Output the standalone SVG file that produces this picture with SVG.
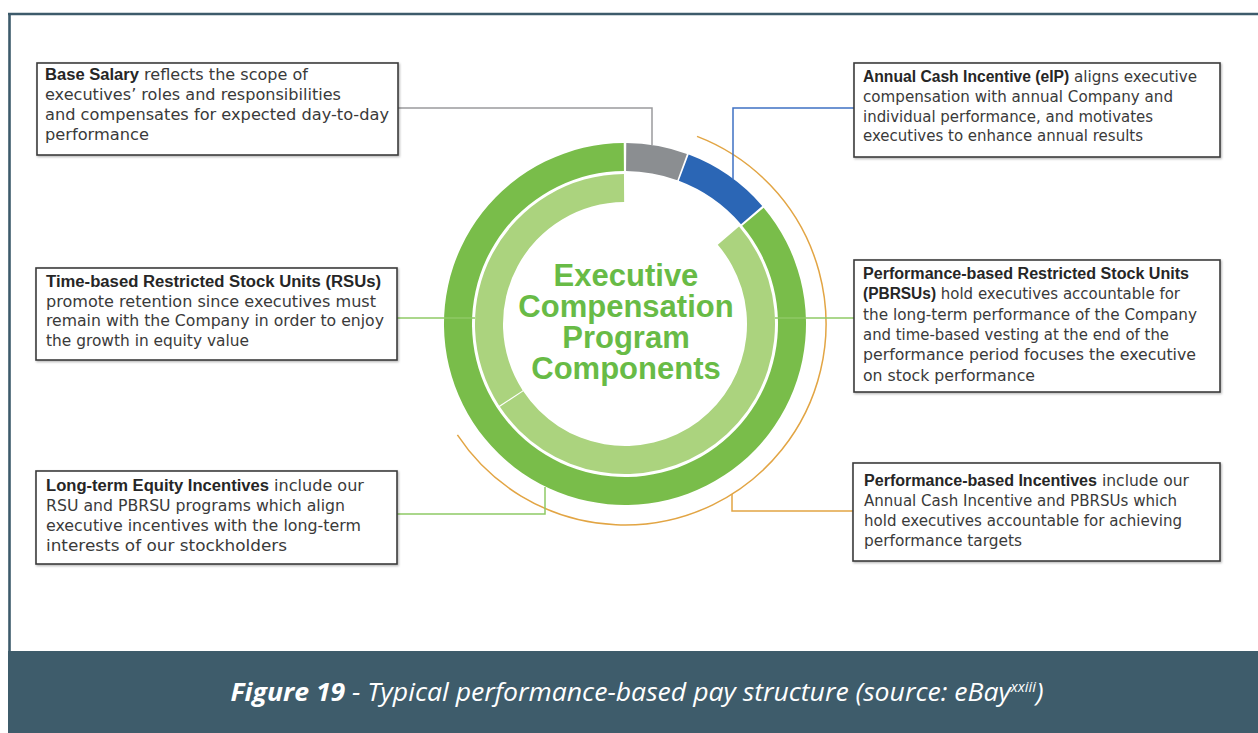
<svg xmlns="http://www.w3.org/2000/svg" width="1258" height="733" viewBox="0 0 1258 733">
<defs>
<filter id="sh" x="-5%" y="-5%" width="110%" height="115%"><feDropShadow dx="1" dy="1.2" stdDeviation="0.8" flood-color="#000" flood-opacity="0.3"/></filter>
</defs>
<style>
.box{fill:#fff;stroke:#3c3c3c;stroke-width:1.6;filter:url(#sh)}
.t{font-family:"DejaVu Sans","Liberation Sans",sans-serif;font-size:15.5px;fill:#3a3a3a}
.b{font-family:"Liberation Sans",Arial,sans-serif;font-weight:bold;font-size:16px;fill:#262626}
.title{font-family:"Liberation Sans",Arial,sans-serif;font-weight:bold;font-size:31px;fill:#68bb46;text-anchor:middle}
.cap{font-family:"Open Sans","Liberation Sans",sans-serif;font-style:italic;font-size:25.5px;fill:#fff;text-anchor:middle}
.c{fill:none;stroke-width:1.5}
.outer{fill:#79bd4a}
.inner{fill:#abd37e}
</style>
<rect width="1258" height="733" fill="#fff"/>
<g id="frame">
<line x1="8" y1="14" x2="1258" y2="14" stroke="#3d5b6b" stroke-width="2.6"/>
<line x1="9.5" y1="13" x2="9.5" y2="652" stroke="#3d5b6b" stroke-width="2.6"/>
<rect x="8" y="651" width="1250" height="82" fill="#3e5c6b"/>
</g>
<g id="donut">
<path fill="#8b8e91" d="M626.26,143 A181,181 0 0 1 686.91,153.92 L677.33,180.23 A153,153 0 0 0 626.07,171 Z"/>
<path fill="#2b66b5" d="M688.68,154.57 A181,181 0 0 1 762.22,205.97 L741.0,224.23 A153,153 0 0 0 678.83,180.78 Z"/>
<path class="outer" d="M763.65,207.66 A181,181 0 1 1 623.74,143 L623.93,171 A153,153 0 1 0 742.20,225.65 Z"/>
<path class="inner" d="M739.06,226.58 A150,150 0 1 1 499.92,406.79 L523.27,391.34 A122,122 0 1 0 717.77,244.77 Z"/>
<path class="inner" d="M499.20,405.70 A150,150 0 0 1 623.95,174 L624.15,202 A122,122 0 0 0 522.68,390.45 Z"/>
<text class="title" x="626" y="286">Executive</text>
<text class="title" x="626" y="317">Compensation</text>
<text class="title" x="626" y="348">Program</text>
<text class="title" x="626" y="379">Components</text>
</g>
<g id="connectors">
<path class="c" stroke="#e2a544" stroke-width="1.6" d="M697.03,136.35 A201,201 0 1 1 457.39,434.94"/>
<path class="c" stroke="#9a9b9d" d="M398,108 H652 V145"/>
<path class="c" stroke="#3f72c4" d="M854,108 H733 V179"/>
<path class="c" stroke="#8fca66" d="M397,318 H475"/>
<path class="c" stroke="#8fca66" d="M775,318 H854"/>
<path class="c" stroke="#8fca66" d="M545,487 V514 H397"/>
<path class="c" stroke="#e2a544" d="M732,494 V511 H853"/>
</g>
<g id="base-salary">
<rect class="box" x="37" y="63" width="361" height="92"/>
<text class="t" x="45" y="80" textLength="263" lengthAdjust="spacingAndGlyphs"><tspan class="b">Base Salary</tspan> reflects the scope of</text>
<text class="t" x="45" y="100" textLength="296" lengthAdjust="spacingAndGlyphs">executives’ roles and responsibilities</text>
<text class="t" x="45" y="120" textLength="344" lengthAdjust="spacingAndGlyphs">and compensates for expected day-to-day</text>
<text class="t" x="45" y="140" textLength="104" lengthAdjust="spacingAndGlyphs">performance</text>
</g>
<g id="annual-cash">
<rect class="box" x="854" y="63" width="366" height="94"/>
<text class="t" x="863" y="82" textLength="334" lengthAdjust="spacingAndGlyphs"><tspan class="b">Annual Cash Incentive (eIP)</tspan> aligns executive</text>
<text class="t" x="863" y="102" textLength="310" lengthAdjust="spacingAndGlyphs">compensation with annual Company and</text>
<text class="t" x="863" y="122" textLength="290" lengthAdjust="spacingAndGlyphs">individual performance, and motivates</text>
<text class="t" x="863" y="141" textLength="280" lengthAdjust="spacingAndGlyphs">executives to enhance annual results</text>
</g>
<g id="rsu">
<rect class="box" x="36" y="268" width="361" height="92"/>
<text class="b" x="46" y="287" textLength="335" lengthAdjust="spacingAndGlyphs">Time-based Restricted Stock Units (RSUs)</text>
<text class="t" x="46" y="306.5" textLength="330" lengthAdjust="spacingAndGlyphs">promote retention since executives must</text>
<text class="t" x="46" y="326" textLength="338" lengthAdjust="spacingAndGlyphs">remain with the Company in order to enjoy</text>
<text class="t" x="46" y="345.5" textLength="203" lengthAdjust="spacingAndGlyphs">the growth in equity value</text>
</g>
<g id="pbrsu">
<rect class="box" x="854" y="260" width="366" height="132"/>
<text class="b" x="863" y="279" textLength="326" lengthAdjust="spacingAndGlyphs">Performance-based Restricted Stock Units</text>
<text class="t" x="863" y="299.3" textLength="317" lengthAdjust="spacingAndGlyphs"><tspan class="b">(PBRSUs)</tspan> hold executives accountable for</text>
<text class="t" x="863" y="319.6" textLength="334" lengthAdjust="spacingAndGlyphs">the long-term performance of the Company</text>
<text class="t" x="863" y="340" textLength="306" lengthAdjust="spacingAndGlyphs">and time-based vesting at the end of the</text>
<text class="t" x="863" y="360.3" textLength="333" lengthAdjust="spacingAndGlyphs">performance period focuses the executive</text>
<text class="t" x="863" y="380.6" textLength="172" lengthAdjust="spacingAndGlyphs">on stock performance</text>
</g>
<g id="long-term-equity">
<rect class="box" x="36" y="471" width="361" height="93"/>
<text class="t" x="46" y="491" textLength="318" lengthAdjust="spacingAndGlyphs"><tspan class="b">Long-term Equity Incentives</tspan> include our</text>
<text class="t" x="46" y="511" textLength="299" lengthAdjust="spacingAndGlyphs">RSU and PBRSU programs which align</text>
<text class="t" x="46" y="531" textLength="315" lengthAdjust="spacingAndGlyphs">executive incentives with the long-term</text>
<text class="t" x="46" y="551" textLength="241" lengthAdjust="spacingAndGlyphs">interests of our stockholders</text>
</g>
<g id="performance-incentives">
<rect class="box" x="853" y="463" width="367" height="98"/>
<text class="t" x="864" y="486" textLength="325" lengthAdjust="spacingAndGlyphs"><tspan class="b">Performance-based Incentives</tspan> include our</text>
<text class="t" x="864" y="506" textLength="313" lengthAdjust="spacingAndGlyphs">Annual Cash Incentive and PBRSUs which</text>
<text class="t" x="864" y="526" textLength="318" lengthAdjust="spacingAndGlyphs">hold executives accountable for achieving</text>
<text class="t" x="864" y="546" textLength="158" lengthAdjust="spacingAndGlyphs">performance targets</text>
</g>
<g id="caption">
<text class="cap" x="637" y="701" textLength="813" lengthAdjust="spacingAndGlyphs"><tspan font-weight="bold">Figure 19</tspan> - Typical performance-based pay structure (source: eBay<tspan font-size="14" dy="-9">xxiii</tspan><tspan dy="9">)</tspan></text>
</g>
</svg>
